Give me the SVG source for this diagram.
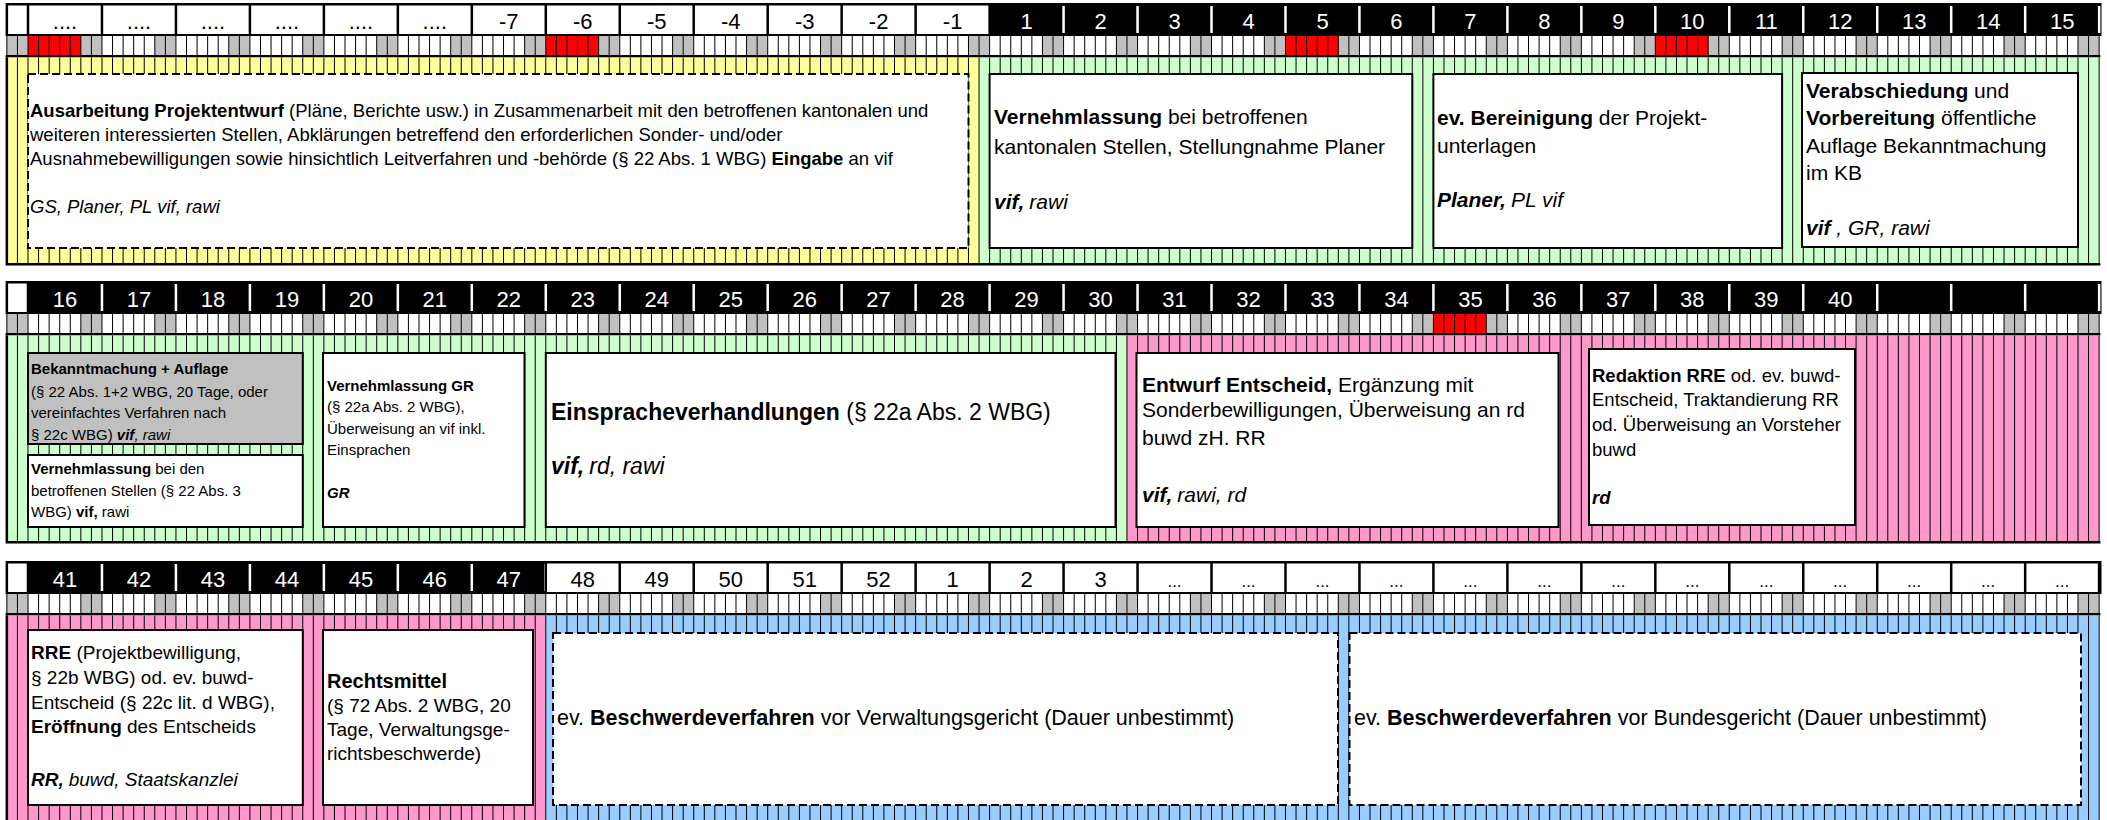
<svg xmlns="http://www.w3.org/2000/svg" width="2107" height="820" viewBox="0 0 2107 820">
<style>
text{font-family:"Liberation Sans",Arial,sans-serif;fill:#000}
.b{font-weight:bold}
.i{font-style:italic}
.bi{font-weight:bold;font-style:italic}
.hl{font-size:22px;text-anchor:middle}
.hd{font-size:17px;text-anchor:middle}
.hw{fill:#fff}
.box{fill:#fff;stroke:#000;stroke-width:2}
.gbox{fill:#c0c0c0;stroke:#000;stroke-width:2}
.dbox{fill:#fff;stroke:#000;stroke-width:2;stroke-dasharray:8 4}
.dl{stroke:#000;stroke-width:19;stroke-dasharray:1 9.567;fill:none}
.we{stroke:#c0c0c0;stroke-width:19;stroke-dasharray:21.134 52.835;fill:none}
.comb{stroke:#000;stroke-width:205.5;stroke-dasharray:1 9.567;fill:none}
.sepb{stroke:#000;stroke-width:33;stroke-dasharray:2.5 71.469;fill:none}
.sepw{stroke:#fff;stroke-width:27;stroke-dasharray:2.5 71.469;fill:none}
.red{fill:#ff0000}
.f15{font-size:15px}
.f185{font-size:18.5px}
.f19{font-size:19px}
.f21{font-size:21px}
.f215{font-size:21.5px}
.f23{font-size:23px}
</style>

<!-- ===== Row 1 timeline ===== -->
<g id="row1-timeline">
<rect x="5.6" y="3" width="2095.9" height="33" fill="#000"/>
<rect x="8.1" y="5.5" width="18.65" height="28.5" fill="#fff"/>
<rect x="29.25" y="5.5" width="959.1" height="28.5" fill="#fff"/>
<line class="sepb" x1="100.72" y1="19.5" x2="988" y2="19.5"/>
<line class="sepw" x1="1062.32" y1="19.5" x2="2101" y2="19.5"/>
<g class="hl">
<text x="65" y="29">....</text><text x="139" y="29">....</text><text x="212.9" y="29">....</text><text x="286.9" y="29">....</text><text x="360.9" y="29">....</text><text x="434.8" y="29">....</text>
<text x="508.8" y="29">-7</text><text x="582.8" y="29">-6</text><text x="656.7" y="29">-5</text><text x="730.7" y="29">-4</text><text x="804.7" y="29">-3</text><text x="878.6" y="29">-2</text><text x="952.6" y="29">-1</text>
<text class="hw" x="1026.6" y="29">1</text><text class="hw" x="1100.6" y="29">2</text><text class="hw" x="1174.5" y="29">3</text><text class="hw" x="1248.5" y="29">4</text><text class="hw" x="1322.5" y="29">5</text><text class="hw" x="1396.4" y="29">6</text><text class="hw" x="1470.4" y="29">7</text><text class="hw" x="1544.4" y="29">8</text><text class="hw" x="1618.3" y="29">9</text><text class="hw" x="1692.3" y="29">10</text><text class="hw" x="1766.3" y="29">11</text><text class="hw" x="1840.2" y="29">12</text><text class="hw" x="1914.2" y="29">13</text><text class="hw" x="1988.2" y="29">14</text><text class="hw" x="2062.2" y="29">15</text>
</g>
<rect x="6.87" y="36" width="2092.2" height="19" fill="#fff"/>
<line class="we" x1="6.87" y1="45.5" x2="2099.1" y2="45.5"/>
<rect class="red" x="28" y="36" width="52.835" height="19"/>
<rect class="red" x="545.79" y="36" width="52.835" height="19"/>
<rect class="red" x="1285.48" y="36" width="52.835" height="19"/>
<rect class="red" x="1655.32" y="36" width="52.835" height="19"/>
<line class="dl" x1="6.37" y1="45.5" x2="2100" y2="45.5"/>
<rect x="5.6" y="55" width="2094.8" height="2.5" fill="#000"/>
<rect x="6.87" y="57.5" width="972.16" height="205.5" fill="#ffff99"/>
<rect x="979.03" y="57.5" width="1120.07" height="205.5" fill="#ccffcc"/>
<line class="comb" x1="6.37" y1="160.25" x2="2100" y2="160.25"/>
<rect x="5.6" y="57.5" width="2.5" height="205.5" fill="#000"/>
<rect x="5.6" y="263" width="2094.8" height="2.5" fill="#000"/>
</g>

<!-- ===== Row 2 timeline ===== -->
<g id="row2-timeline">
<rect x="5.6" y="281" width="2095.9" height="33" fill="#000"/>
<rect x="8.1" y="283.5" width="18.65" height="28.5" fill="#fff"/>
<line class="sepw" x1="100.72" y1="297.5" x2="2101" y2="297.5"/>
<g class="hl">
<text class="hw" x="65" y="307">16</text><text class="hw" x="139" y="307">17</text><text class="hw" x="212.9" y="307">18</text><text class="hw" x="286.9" y="307">19</text><text class="hw" x="360.9" y="307">20</text><text class="hw" x="434.8" y="307">21</text><text class="hw" x="508.8" y="307">22</text><text class="hw" x="582.8" y="307">23</text><text class="hw" x="656.7" y="307">24</text><text class="hw" x="730.7" y="307">25</text><text class="hw" x="804.7" y="307">26</text><text class="hw" x="878.6" y="307">27</text><text class="hw" x="952.6" y="307">28</text><text class="hw" x="1026.6" y="307">29</text><text class="hw" x="1100.6" y="307">30</text><text class="hw" x="1174.5" y="307">31</text><text class="hw" x="1248.5" y="307">32</text><text class="hw" x="1322.5" y="307">33</text><text class="hw" x="1396.4" y="307">34</text><text class="hw" x="1470.4" y="307">35</text><text class="hw" x="1544.4" y="307">36</text><text class="hw" x="1618.3" y="307">37</text><text class="hw" x="1692.3" y="307">38</text><text class="hw" x="1766.3" y="307">39</text><text class="hw" x="1840.2" y="307">40</text>
</g>
<rect x="6.87" y="314" width="2092.2" height="19" fill="#fff"/>
<line class="we" x1="6.87" y1="323.5" x2="2099.1" y2="323.5"/>
<rect class="red" x="1433.42" y="314" width="52.835" height="19"/>
<line class="dl" x1="6.37" y1="323.5" x2="2100" y2="323.5"/>
<rect x="5.6" y="333" width="2094.8" height="2.5" fill="#000"/>
<rect x="6.87" y="335.5" width="1120.1" height="205.5" fill="#ccffcc"/>
<rect x="1126.97" y="335.5" width="972.13" height="205.5" fill="#ff99cc"/>
<line class="comb" x1="6.37" y1="438.25" x2="2100" y2="438.25"/>
<rect x="5.6" y="335.5" width="2.5" height="205.5" fill="#000"/>
<rect x="5.6" y="541" width="2094.8" height="2.5" fill="#000"/>
</g>

<!-- ===== Row 3 timeline ===== -->
<g id="row3-timeline">
<rect x="5.6" y="561" width="2095.9" height="33" fill="#000"/>
<rect x="8.1" y="563.5" width="18.65" height="28.5" fill="#fff"/>
<rect x="547.04" y="563.5" width="1550.8" height="28.5" fill="#fff"/>
<line class="sepw" x1="100.72" y1="577.5" x2="545" y2="577.5"/>
<line class="sepb" x1="618.51" y1="577.5" x2="2097" y2="577.5"/>
<g class="hl">
<text class="hw" x="65" y="587">41</text><text class="hw" x="139" y="587">42</text><text class="hw" x="212.9" y="587">43</text><text class="hw" x="286.9" y="587">44</text><text class="hw" x="360.9" y="587">45</text><text class="hw" x="434.8" y="587">46</text><text class="hw" x="508.8" y="587">47</text>
<text x="582.8" y="587">48</text><text x="656.7" y="587">49</text><text x="730.7" y="587">50</text><text x="804.7" y="587">51</text><text x="878.6" y="587">52</text><text x="952.6" y="587">1</text><text x="1026.6" y="587">2</text><text x="1100.6" y="587">3</text>
</g>
<g class="hd">
<text x="1174.5" y="587">...</text><text x="1248.5" y="587">...</text><text x="1322.5" y="587">...</text><text x="1396.4" y="587">...</text><text x="1470.4" y="587">...</text><text x="1544.4" y="587">...</text><text x="1618.3" y="587">...</text><text x="1692.3" y="587">...</text><text x="1766.3" y="587">...</text><text x="1840.2" y="587">...</text><text x="1914.2" y="587">...</text><text x="1988.2" y="587">...</text><text x="2062.2" y="587">...</text>
</g>
<rect x="6.87" y="594" width="2092.2" height="19" fill="#fff"/>
<line class="we" x1="6.87" y1="603.5" x2="2099.1" y2="603.5"/>
<line class="dl" x1="6.37" y1="603.5" x2="2100" y2="603.5"/>
<rect x="5.6" y="613" width="2094.8" height="2.5" fill="#000"/>
<rect x="6.87" y="615.5" width="538.92" height="206" fill="#ff99cc"/>
<rect x="545.79" y="615.5" width="1553.31" height="206" fill="#99ccff"/>
<line class="comb" x1="6.37" y1="718.25" x2="2100" y2="718.25"/>
<rect x="5.6" y="615.5" width="2.5" height="206" fill="#000"/>
</g>

<g id="connectors"></g>

<!-- ===== Row 1 nodes ===== -->
<g id="ausarbeitung">
<rect class="dbox" x="28" y="74" width="940.5" height="174"/>
<text class="f185" x="30" y="117"><tspan class="b">Ausarbeitung Projektentwurf</tspan> (Pläne, Berichte usw.) in Zusammenarbeit mit den betroffenen kantonalen und</text>
<text class="f185" x="30" y="141">weiteren interessierten Stellen, Abklärungen betreffend den erforderlichen Sonder- und/oder</text>
<text class="f185" x="30" y="165">Ausnahmebewilligungen sowie hinsichtlich Leitverfahren und -behörde (§ 22 Abs. 1 WBG) <tspan class="b">Eingabe</tspan> an vif</text>
<text class="f185 i" x="30" y="213">GS, Planer, PL vif, rawi</text>
</g>
<g id="vernehmlassung1">
<rect class="box" x="989.6" y="74" width="422.7" height="174"/>
<text class="f21" x="994" y="124"><tspan class="b">Vernehmlassung</tspan> bei betroffenen</text>
<text class="f21" x="994" y="154">kantonalen Stellen, Stellungnahme Planer</text>
<text class="f21" x="994" y="209"><tspan class="bi">vif,</tspan><tspan class="i" dx="5">rawi</tspan></text>
</g>
<g id="bereinigung">
<rect class="box" x="1433.4" y="74" width="348.7" height="174"/>
<text class="f21" x="1437" y="125"><tspan class="b">ev. Bereinigung</tspan> der Projekt-</text>
<text class="f21" x="1437" y="153">unterlagen</text>
<text class="f21" x="1437" y="207"><tspan class="bi">Planer,</tspan><tspan class="i" dx="5">PL vif</tspan></text>
</g>
<g id="verabschiedung">
<rect class="box" x="1802" y="73" width="276" height="174"/>
<text class="f21" x="1806" y="98"><tspan class="b">Verabschiedung</tspan> und</text>
<text class="f21" x="1806" y="125"><tspan class="b">Vorbereitung</tspan> öffentliche</text>
<text class="f21" x="1806" y="153">Auflage Bekanntmachung</text>
<text class="f21" x="1806" y="180">im KB</text>
<text class="f21" x="1806" y="235"><tspan class="bi">vif</tspan><tspan class="i"> , GR, rawi</tspan></text>
</g>

<!-- ===== Row 2 nodes ===== -->
<g id="bekanntmachung">
<rect class="gbox" x="28" y="353" width="274.8" height="91"/>
<text class="f15 b" x="31" y="374">Bekanntmachung + Auflage</text>
<text class="f15" x="31" y="397">(§ 22 Abs. 1+2 WBG,  20 Tage, oder</text>
<text class="f15" x="31" y="418">vereinfachtes Verfahren nach</text>
<text class="f15" x="31" y="440">§ 22c WBG) <tspan class="bi">vif</tspan><tspan class="i">, rawi</tspan></text>
</g>
<g id="vernehmlassung2">
<rect class="box" x="28" y="455" width="274.8" height="72"/>
<text class="f15" x="31" y="474"><tspan class="b">Vernehmlassung</tspan> bei den</text>
<text class="f15" x="31" y="496">betroffenen Stellen (§ 22 Abs. 3</text>
<text class="f15" x="31" y="517">WBG) <tspan class="b">vif,</tspan> rawi</text>
</g>
<g id="vernehmlassung-gr">
<rect class="box" x="323" y="353" width="201.5" height="174"/>
<text class="f15 b" x="327" y="391">Vernehmlassung GR</text>
<text class="f15" x="327" y="412">(§ 22a Abs. 2 WBG),</text>
<text class="f15" x="327" y="434">Überweisung an vif inkl.</text>
<text class="f15" x="327" y="455">Einsprachen</text>
<text class="f15 bi" x="327" y="498">GR</text>
</g>
<g id="einsprache">
<rect class="box" x="545.8" y="353" width="569.7" height="174"/>
<text class="f23" x="551" y="420"><tspan class="b">Einspracheverhandlungen</tspan> (§ 22a Abs. 2 WBG)</text>
<text class="f23" x="551" y="474"><tspan class="bi">vif,</tspan><tspan class="i" dx="5">rd, rawi</tspan></text>
</g>
<g id="entwurf">
<rect class="box" x="1136.5" y="353" width="422" height="174"/>
<text class="f21" x="1142" y="392"><tspan class="b">Entwurf Entscheid,</tspan> Ergänzung mit</text>
<text class="f21" x="1142" y="417">Sonderbewilligungen, Überweisung an rd</text>
<text class="f21" x="1142" y="445">buwd zH. RR</text>
<text class="f21" x="1142" y="502"><tspan class="bi">vif,</tspan><tspan class="i" dx="5">rawi, rd</tspan></text>
</g>
<g id="redaktion">
<rect class="box" x="1589" y="349" width="266" height="176"/>
<text class="f185" x="1592" y="382"><tspan class="b">Redaktion RRE</tspan> od. ev. buwd-</text>
<text class="f185" x="1592" y="406">Entscheid, Traktandierung RR</text>
<text class="f185" x="1592" y="431">od. Überweisung an Vorsteher</text>
<text class="f185" x="1592" y="456">buwd</text>
<text class="f185 bi" x="1592" y="504">rd</text>
</g>

<!-- ===== Row 3 nodes ===== -->
<g id="rre">
<rect class="box" x="28" y="630" width="274.8" height="175"/>
<text class="f19" x="31" y="659"><tspan class="b">RRE</tspan> (Projektbewilligung,</text>
<text class="f19" x="31" y="684">§ 22b WBG) od. ev. buwd-</text>
<text class="f19" x="31" y="709">Entscheid (§ 22c lit. d WBG),</text>
<text class="f19" x="31" y="733"><tspan class="b">Eröffnung</tspan> des Entscheids</text>
<text class="f19" x="31" y="786"><tspan class="bi">RR,</tspan><tspan class="i" dx="5">buwd, Staatskanzlei</tspan></text>
</g>
<g id="rechtsmittel">
<rect class="box" x="323" y="630" width="210" height="175"/>
<text class="b" style="font-size:20px" x="327" y="688">Rechtsmittel</text>
<text class="f19" x="327" y="712">(§ 72 Abs. 2 WBG, 20</text>
<text class="f19" x="327" y="736">Tage, Verwaltungsge-</text>
<text class="f19" x="327" y="760">richtsbeschwerde)</text>
</g>
<g id="beschwerde-vg">
<rect class="dbox" x="553" y="633" width="785" height="172"/>
<text class="f215" x="557" y="725">ev. <tspan class="b">Beschwerdeverfahren</tspan> vor Verwaltungsgericht (Dauer unbestimmt)</text>
</g>
<g id="beschwerde-bg">
<rect class="dbox" x="1349.5" y="633" width="731.5" height="172"/>
<text class="f215" x="1354" y="725">ev. <tspan class="b">Beschwerdeverfahren</tspan> vor Bundesgericht (Dauer unbestimmt)</text>
</g>
</svg>
